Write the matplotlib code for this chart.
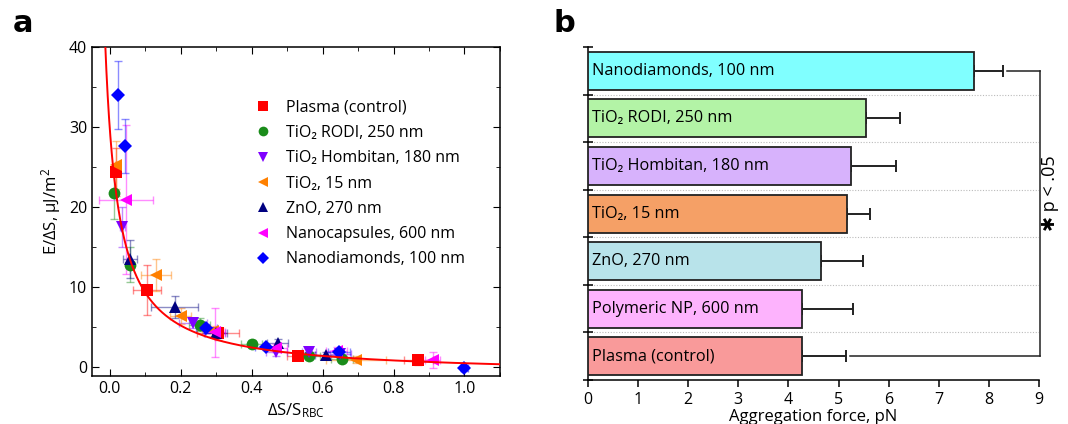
import numpy as np
import matplotlib
matplotlib.use("Agg")
import matplotlib.pyplot as plt
from matplotlib.ticker import MultipleLocator, FixedLocator
from matplotlib.lines import Line2D

plt.rcParams['font.family'] = ['Open Sans', 'DejaVu Sans']
plt.rcParams['mathtext.fontset'] = 'custom'
plt.rcParams['mathtext.rm'] = 'Open Sans'
plt.rcParams['mathtext.it'] = 'Open Sans:italic'

# ---------------- Panel a data ----------------
series_names = ["Plasma (control)", "TiO\u2082 RODI, 250 nm", "TiO\u2082 Hombitan, 180 nm",
                "TiO\u2082, 15 nm", "ZnO, 270 nm", "Nanocapsules, 600 nm", "Nanodiamonds, 100 nm"]
series_colors = ["#FF0000", "#1A8C1A", "#7F00FF", "#FF8000", "#000080", "#FF00FF", "#0000FF"]
series_markers = ["s", "o", "v", "<", "^", "<", "D"]

plasma_x = [0.017, 0.105, 0.305, 0.53, 0.87]
plasma_y = [24.4, 9.6, 4.2, 1.4, 0.8]
plasma_xerr = [0.005, 0.04, 0.06, 0.03, 0.04]
plasma_yerr = [3.0, 3.1, 0.8, 0.4, 0.6]

rodi_x = [0.011, 0.058, 0.254, 0.40, 0.563, 0.655]
rodi_y = [21.7, 12.75, 5.25, 2.9, 1.4, 1.0]
rodi_xerr = [0.004, 0.01, 0.03, 0.03, 0.03, 0.03]
rodi_yerr = [3.2, 2.2, 0.8, 0.5, 0.4, 0.4]

homb_x = [0.036, 0.235, 0.296, 0.47, 0.561, 0.65]
homb_y = [17.5, 5.5, 4.2, 1.9, 1.8, 1.6]
homb_xerr = [0.008, 0.04, 0.03, 0.03, 0.02, 0.03]
homb_yerr = [2.5, 0.6, 0.6, 0.5, 0.5, 0.4]

tio15_x = [0.019, 0.13, 0.20, 0.29, 0.695]
tio15_y = [25.2, 11.5, 6.3, 4.5, 0.9]
tio15_xerr = [0.005, 0.042, 0.03, 0.03, 0.085]
tio15_yerr = [3.0, 2.0, 1.0, 0.6, 0.4]

zno_x = [0.058, 0.183, 0.30, 0.474, 0.61]
zno_y = [13.5, 7.5, 4.2, 3.0, 1.5]
zno_xerr = [0.02, 0.066, 0.03, 0.03, 0.03]
zno_yerr = [2.4, 1.4, 0.6, 0.5, 0.4]

caps_x = [0.045, 0.296, 0.47, 0.64, 0.91]
caps_y = [20.9, 4.3, 2.3, 2.0, 0.9]
caps_xerr = [0.076, 0.03, 0.03, 0.03, 0.02]
caps_yerr = [9.3, 3.1, 0.5, 0.5, 1.0]

nd_x = [0.023, 0.042, 0.272, 0.44, 0.646, 1.0]
nd_y = [34.0, 27.6, 4.8, 2.5, 1.9, -0.2]
nd_xerr = [0.005, 0.005, 0.03, 0.03, 0.03, 0.01]
nd_yerr = [4.3, 3.4, 0.6, 0.4, 0.5, 0.3]

# fitted curve parameters: y = A/(x + C) - D
fit_A, fit_C, fit_D = 1.549, 0.05, 1.025

# ---------------- Panel b data ----------------
bar_labels = ["Plasma (control)", "Polymeric NP, 600 nm", "ZnO, 270 nm", "TiO\u2082, 15 nm",
              "TiO\u2082 Hombitan, 180 nm", "TiO\u2082 RODI, 250 nm", "Nanodiamonds, 100 nm"]
bar_values = [4.28, 4.28, 4.65, 5.17, 5.25, 5.54, 7.70]
bar_errors = [0.86, 1.01, 0.84, 0.46, 0.89, 0.68, 0.58]
bar_colors = ["#F99A9A", "#FDB3FD", "#B8E3EA", "#F5A066", "#D7B2FC", "#B3F3A6", "#80FFFF"]

fig = plt.figure(figsize=(10.68, 4.24), dpi=100)

# ================= Panel a =================
ax = fig.add_axes([0.0861, 0.1132, 0.382, 0.7758])
all_series = [
    (plasma_x, plasma_y, plasma_xerr, plasma_yerr),
    (rodi_x, rodi_y, rodi_xerr, rodi_yerr),
    (homb_x, homb_y, homb_xerr, homb_yerr),
    (tio15_x, tio15_y, tio15_xerr, tio15_yerr),
    (zno_x, zno_y, zno_xerr, zno_yerr),
    (caps_x, caps_y, caps_xerr, caps_yerr),
    (nd_x, nd_y, nd_xerr, nd_yerr),
]
for (xs, ys, xe, ye), c, m in zip(all_series, series_colors, series_markers):
    ax.errorbar(xs, ys, xerr=xe, yerr=ye, fmt='none', ecolor=c, alpha=0.45,
                elinewidth=1.0, capsize=3, capthick=1.0, zorder=2)
for (xs, ys, xe, ye), c, m in zip(all_series, series_colors, series_markers):
    ms = 7 if m == 'D' else 8.5
    ax.plot(xs, ys, linestyle='none', marker=m, color=c, markersize=ms,
            markeredgewidth=0, zorder=3)

xc = np.linspace(-0.013, 1.1, 600)
ax.plot(xc, fit_A / (xc + fit_C) - fit_D, color='red', lw=1.4, zorder=4)

ax.set_xlim(-0.05, 1.1)
ax.set_ylim(-1.15, 40)
ax.xaxis.set_major_locator(MultipleLocator(0.2))
ax.xaxis.set_minor_locator(MultipleLocator(0.1))
ax.yaxis.set_major_locator(MultipleLocator(10))
ax.yaxis.set_minor_locator(MultipleLocator(5))
ax.set_xticks([0, 0.2, 0.4, 0.6, 0.8, 1.0])
ax.set_xticklabels(["0.0", "0.2", "0.4", "0.6", "0.8", "1.0"])
ax.tick_params(which='both', direction='in', top=True, right=True, labelsize=11.5)
ax.tick_params(which='major', length=5)
ax.tick_params(which='minor', length=3)
for s in ax.spines.values():
    s.set_linewidth(1.1)
ax.set_ylabel("E/\u0394S, \u03bcJ/m$^2$", fontsize=12, labelpad=4)
ax.set_xlabel("\u0394S/S$_{\\mathrm{RBC}}$", fontsize=12, labelpad=3)

handles = [Line2D([], [], linestyle='none', marker=m, color=c,
                  markersize=(6 if m == 'D' else 7), markeredgewidth=0)
           for c, m in zip(series_colors, series_markers)]
ax.legend(handles, series_names, loc='upper left', bbox_to_anchor=(0.38, 0.864),
          frameon=False, fontsize=11.5, handlelength=1.0, handletextpad=0.95,
          labelspacing=0.58, borderpad=0)

fig.text(0.012, 0.925, "a", fontsize=22, fontweight='bold', family='DejaVu Sans')

# ================= Panel b =================
bx = fig.add_axes([0.5506, 0.1038, 0.4222, 0.7852])
ypos = np.arange(len(bar_values))
bx.barh(ypos, bar_values, height=0.8, color=bar_colors, edgecolor='#222222',
        linewidth=1.3, zorder=3)
bx.errorbar(bar_values, ypos, xerr=[[0] * len(bar_errors), bar_errors], fmt='none',
            ecolor='#222222', elinewidth=1.4, capsize=4.5, capthick=1.4, zorder=2)
for y, lab in zip(ypos, bar_labels):
    bx.text(0.08, y, lab, va='center', ha='left', fontsize=11.7, zorder=4)

bx.set_xlim(0, 9)
bx.set_ylim(-0.5, len(bar_values) - 0.5)
bx.xaxis.set_major_locator(MultipleLocator(1))
bx.yaxis.set_major_locator(FixedLocator(np.arange(-0.5, len(bar_values), 1.0)))
bx.set_yticklabels([])
bx.tick_params(axis='y', direction='inout', length=7, width=1.1)
bx.tick_params(axis='x', direction='out', length=5, width=1.1, labelsize=11.5)
for yb in np.arange(0.5, len(bar_values) - 1, 1.0):
    bx.axhline(yb, color='#bbbbbb', lw=0.8, ls=(0, (1, 1.5)), zorder=1)
bx.spines['top'].set_visible(False)
bx.spines['right'].set_visible(False)
bx.spines['left'].set_linewidth(1.1)
bx.spines['bottom'].set_linewidth(1.1)
bx.set_xlabel("Aggregation force, pN", fontsize=12, labelpad=1)

# significance bracket
top_i, bot_i = len(bar_values) - 1, 0
xb = 9.02
gap = 0.09
bx.plot([bar_values[top_i] + bar_errors[top_i] + gap, xb], [top_i, top_i],
        color='#222222', lw=1.1, clip_on=False)
bx.plot([bar_values[bot_i] + bar_errors[bot_i] + gap, xb], [bot_i, bot_i],
        color='#222222', lw=1.1, clip_on=False)
bx.plot([xb, xb], [bot_i, top_i], color='#222222', lw=1.1, clip_on=False)
bx.text(9.22, 3.42, "\u2731 p < .05", rotation=90, va='center', ha='center',
        fontsize=13, family=['Open Sans', 'DejaVu Sans'])

fig.text(0.518, 0.925, "b", fontsize=22, fontweight='bold', family='DejaVu Sans')

fig.savefig("out.png", dpi=100)
